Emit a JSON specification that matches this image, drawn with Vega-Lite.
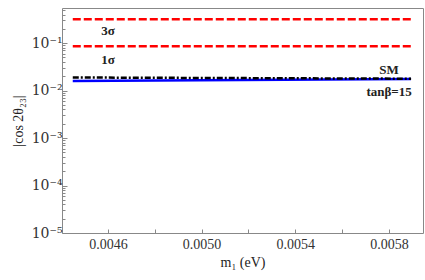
{
  "$schema": "https://vega.github.io/schema/vega-lite/v6.json",
  "width": 361,
  "height": 225,
  "autosize": "none",
  "padding": {"left": 62, "top": 8, "right": 2, "bottom": 47},
  "background": "white",
  "config": {
    "view": {"stroke": "#888888", "strokeWidth": 1},
    "font": "Liberation Serif",
    "axis": {"grid": false, "domain": false, "tickColor": "#888888", "labelColor": "#333333", "titleColor": "#222222", "labelFont": "Liberation Serif", "titleFont": "Liberation Serif", "titleFontWeight": "normal", "labelFontSize": 14, "titleFontSize": 14}
  },
  "datasets": {
    "lines": [
      {"m1": 0.00445, "v": 0.32, "s": "3sigma"},
      {"m1": 0.005894, "v": 0.32, "s": "3sigma"},
      {"m1": 0.00445, "v": 0.086, "s": "1sigma"},
      {"m1": 0.005894, "v": 0.086, "s": "1sigma"},
      {"m1": 0.00445, "v": 0.0189, "s": "SM"},
      {"m1": 0.005894, "v": 0.0178, "s": "SM"},
      {"m1": 0.00445, "v": 0.0160, "s": "tanb"},
      {"m1": 0.005894, "v": 0.0175, "s": "tanb"}
    ],
    "labels": [
      {"m1": 0.0046, "v": 0.18, "t": "3σ"},
      {"m1": 0.0046, "v": 0.044, "t": "1σ"},
      {"m1": 0.0058, "v": 0.027, "t": "SM"},
      {"m1": 0.0058, "v": 0.0094, "t": "tanβ=15"}
    ]
  },
  "layer": [
    {
      "data": {"name": "lines"},
      "transform": [{"filter": "datum.s == '3sigma' || datum.s == '1sigma'"}],
      "mark": {"type": "line", "color": "#ff0000", "strokeWidth": 2.5, "strokeDash": [8, 3]},
      "encoding": {
        "x": {"field": "m1", "type": "quantitative", "scale": {"domain": [0.004404, 0.005945], "nice": false, "zero": false},
          "axis": {"title": "m₁ (eV)", "values": [0.0046, 0.0048, 0.005, 0.0052, 0.0054, 0.0056, 0.0058], "format": ".4f",
            "labelExpr": "round(datum.value*10000) % 4 == 2 ? datum.label : ''", "tickSize": -4, "labelPadding": 8, "titlePadding": 4}},
        "y": {"field": "v", "type": "quantitative", "scale": {"type": "log", "domain": [0.00001, 0.55], "nice": false},
          "axis": {"title": "|cos 2θ₂₃|", "titlePadding": 6,
            "values": [0.00001,0.00002,0.00003,0.00004,0.00005,0.00006,0.00007,0.00008,0.00009,0.0001,0.0002,0.0003,0.0004,0.0005,0.0006,0.0007,0.0008,0.0009,0.001,0.002,0.003,0.004,0.005,0.006,0.007,0.008,0.009,0.01,0.02,0.03,0.04,0.05,0.06,0.07,0.08,0.09,0.1,0.2,0.3,0.4,0.5],
            "labelExpr": "abs(log(datum.value)/LN10 - round(log(datum.value)/LN10)) < 0.01 ? '10⁻' + ['⁰','¹','²','³','⁴','⁵'][-round(log(datum.value)/LN10)] : ''",
            "labelFont": "DejaVu Serif",
            "labelFontSize": 14,
            "tickSize": {"condition": {"test": "abs(log(datum.value)/LN10 - round(log(datum.value)/LN10)) < 0.01", "value": -5}, "value": -3},
            "labelPadding": 5}},
        "detail": {"field": "s"}
      }
    },
    {
      "data": {"name": "lines"},
      "transform": [{"filter": "datum.s == 'tanb'"}],
      "mark": {"type": "line", "color": "#0000ff", "strokeWidth": 2.5},
      "encoding": {
        "x": {"field": "m1", "type": "quantitative"},
        "y": {"field": "v", "type": "quantitative"}
      }
    },
    {
      "data": {"name": "lines"},
      "transform": [{"filter": "datum.s == 'SM'"}],
      "mark": {"type": "line", "color": "#000000", "strokeWidth": 2.5, "strokeDash": [6, 2, 2, 2]},
      "encoding": {
        "x": {"field": "m1", "type": "quantitative"},
        "y": {"field": "v", "type": "quantitative"}
      }
    },
    {
      "data": {"name": "labels"},
      "mark": {"type": "text", "font": "Liberation Serif", "fontWeight": "bold", "fontSize": 13, "color": "#222222"},
      "encoding": {
        "x": {"field": "m1", "type": "quantitative"},
        "y": {"field": "v", "type": "quantitative"},
        "text": {"field": "t"}
      }
    }
  ]
}
